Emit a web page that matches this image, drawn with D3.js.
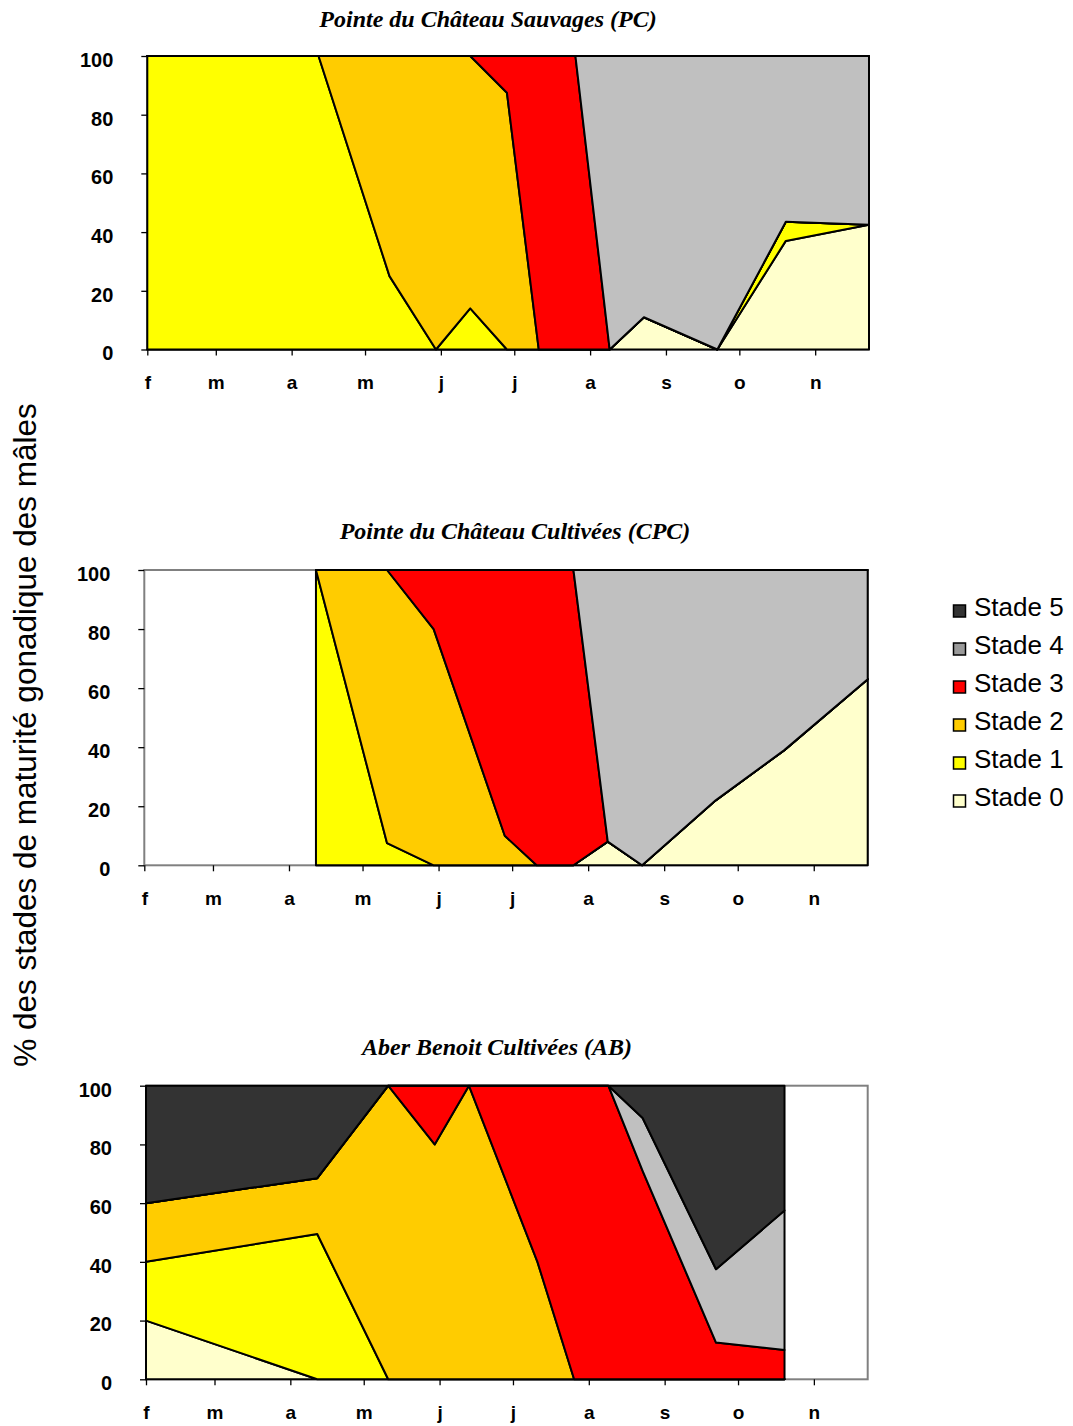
<!DOCTYPE html>
<html><head><meta charset="utf-8">
<script src="https://cdn.jsdelivr.net/npm/d3@7"></script>
<style>body{margin:0;background:#fff} svg{display:block}</style>
</head><body><svg id="c" width="1073" height="1426"></svg>
<script>
// ---------- data ----------
const stages = ["Stade 0","Stade 1","Stade 2","Stade 3","Stade 4","Stade 5"];
const monthLabels = ["f","m","a","m","j","j","a","s","o","n"];
const yTicks = [0,20,40,60,80,100];
const axisStart = "2003-02-01";
const axisEnd = "2003-11-23";

const pcTitle = "Pointe du Château Sauvages (PC)";
const pcDates = ["2003-02-01","2003-04-12","2003-05-11","2003-05-30","2003-06-13","2003-06-28","2003-07-11","2003-07-26","2003-08-09","2003-08-23","2003-09-22","2003-10-20","2003-11-23"];
const pcStade0 = [0,0,0,0,0,0,0,0,0,11,0,37,42.5];
const pcStade1 = [100,100,25,0,14,0,0,0,0,0,0,6.5,0];
const pcStade2 = [0,0,75,100,86,87.5,0,0,0,0,0,0,0];
const pcStade3 = [0,0,0,0,0,12.5,100,100,0,0,0,0,0];
const pcStade4 = [0,0,0,0,0,0,0,0,100,89,100,56.5,57.5];
const pcStade5 = [0,0,0,0,0,0,0,0,0,0,0,0,0];

const cpcTitle = "Pointe du Château Cultivées (CPC)";
const cpcDates = ["2003-04-12","2003-05-11","2003-05-30","2003-06-28","2003-07-11","2003-07-26","2003-08-09","2003-08-23","2003-09-22","2003-10-20","2003-11-23"];
const cpcStade0 = [0,0,0,0,0,0,8,0,22,39,63];
const cpcStade1 = [100,7.5,0,0,0,0,0,0,0,0,0];
const cpcStade2 = [0,92.5,80,10,0,0,0,0,0,0,0];
const cpcStade3 = [0,0,20,90,100,100,0,0,0,0,0];
const cpcStade4 = [0,0,0,0,0,0,92,100,78,61,37];
const cpcStade5 = [0,0,0,0,0,0,0,0,0,0,0];

const abTitle = "Aber Benoit Cultivées (AB)";
const abDates = ["2003-02-01","2003-04-12","2003-05-11","2003-05-30","2003-06-13","2003-07-11","2003-07-26","2003-08-09","2003-08-23","2003-09-22","2003-10-20"];
const abStade0 = [20,0,0,0,0,0,0,0,0,0,0];
const abStade1 = [20,49.5,0,0,0,0,0,0,0,0,0];
const abStade2 = [20,19,100,80,100,40,0,0,0,0,0];
const abStade3 = [0,0,0,20,0,60,100,100,71,12.5,10];
const abStade4 = [0,0,0,0,0,0,0,0,18,25,47.5];
const abStade5 = [40,31.5,0,0,0,0,0,0,11,62.5,42.5];

const yTitle = "% des stades de maturité gonadique des mâles";

// ---------- styles ----------
const fillColors = ["#FFFFCC","#FFFF00","#FFCC00","#FF0000","#C0C0C0","#333333"];
const legendColors = ["#FFFFCC","#FFFF00","#FFCC00","#FF0000","#9A9A9A","#333333"];
const sans = "'Liberation Sans', Arial, sans-serif";
const serif = "'Liberation Serif', 'Times New Roman', serif";

const svg = d3.select("#c");
const parse = d3.utcParse("%Y-%m-%d");

const panels = [
  {title: pcTitle, dates: pcDates, series: [pcStade0,pcStade1,pcStade2,pcStade3,pcStade4,pcStade5],
   x0: 147.3, x1: 869, y0: 56, y1: 349.5, tx: 488, ty: 27},
  {title: cpcTitle, dates: cpcDates, series: [cpcStade0,cpcStade1,cpcStade2,cpcStade3,cpcStade4,cpcStade5],
   x0: 144.3, x1: 867.7, y0: 570, y1: 865.3, tx: 515, ty: 539},
  {title: abTitle, dates: abDates, series: [abStade0,abStade1,abStade2,abStade3,abStade4,abStade5],
   x0: 146, x1: 867.7, y0: 1085.7, y1: 1379.3, tx: 497, ty: 1055}
];

function drawPanel(p) {
  const g = svg.append("g");
  const x = d3.scaleUtc().domain([parse(axisStart), parse(axisEnd)]).range([p.x0, p.x1]);
  const y = d3.scaleLinear().domain([0, 100]).range([p.y1, p.y0]);

  const rows = p.dates.map((d, i) => {
    const r = {date: parse(d)};
    stages.forEach((s, k) => r[s] = p.series[k][i]);
    return r;
  });
  const stacked = d3.stack().keys(stages)(rows);

  // plot frame
  g.append("rect")
    .attr("x", p.x0).attr("y", p.y0)
    .attr("width", p.x1 - p.x0).attr("height", p.y1 - p.y0)
    .attr("fill", "#fff").attr("stroke", "#808080").attr("stroke-width", 2);

  const area = d3.area()
    .x(d => x(d.data.date))
    .y0(d => y(d[0]))
    .y1(d => y(d[1]));

  g.selectAll("path.area").data(stacked).join("path")
    .attr("class", "area")
    .attr("d", area)
    .attr("fill", (d, i) => fillColors[i])
    .attr("stroke", "#000")
    .attr("stroke-width", 2)
    .attr("stroke-linejoin", "round");

  // y axis
  const ya = g.append("g").attr("transform", `translate(${p.x0},0)`)
    .call(d3.axisLeft(y).tickValues(yTicks).tickSize(6).tickFormat(d3.format("d")));
  ya.select(".domain").remove();
  ya.selectAll(".tick line").attr("stroke", "#000").attr("stroke-width", 1.3);
  ya.selectAll(".tick text")
    .attr("x", -34).attr("dy", "0.32em").attr("y", 4)
    .attr("font-family", sans).attr("font-size", 20).attr("font-weight", "bold").attr("fill", "#000");

  // x axis
  const months = d3.utcMonth.range(parse(axisStart), parse("2003-11-02"));
  const xa = g.append("g").attr("transform", `translate(0,${p.y1})`)
    .call(d3.axisBottom(x).tickValues(months).tickSize(6).tickFormat((d, i) => monthLabels[i]));
  xa.select(".domain").remove();
  xa.selectAll(".tick line").attr("stroke", "#000").attr("stroke-width", 1.3);
  xa.selectAll(".tick text")
    .attr("y", 26)
    .attr("font-family", sans).attr("font-size", 19).attr("font-weight", "bold").attr("fill", "#000");

  // title
  svg.append("text")
    .attr("x", p.tx).attr("y", p.ty)
    .attr("text-anchor", "middle")
    .attr("font-family", serif).attr("font-size", 24)
    .attr("font-weight", "bold").attr("font-style", "italic")
    .text(p.title);
}

panels.forEach(drawPanel);

// y title
svg.append("text")
  .attr("transform", "translate(36,735) rotate(-90)")
  .attr("text-anchor", "middle")
  .attr("font-family", sans).attr("font-size", 31.5)
  .text(yTitle);

// legend
const legendOrder = [5,4,3,2,1,0];
const lg = svg.append("g");
legendOrder.forEach((k, i) => {
  const cy = 605 + i * 38;
  lg.append("rect")
    .attr("x", 953.5).attr("y", cy).attr("width", 12).attr("height", 12)
    .attr("fill", legendColors[k]).attr("stroke", "#000").attr("stroke-width", 1.5);
  lg.append("text")
    .attr("x", 974).attr("y", cy + 11)
    .attr("font-family", sans).attr("font-size", 26)
    .text(stages[k]);
});
</script>
</body></html>
